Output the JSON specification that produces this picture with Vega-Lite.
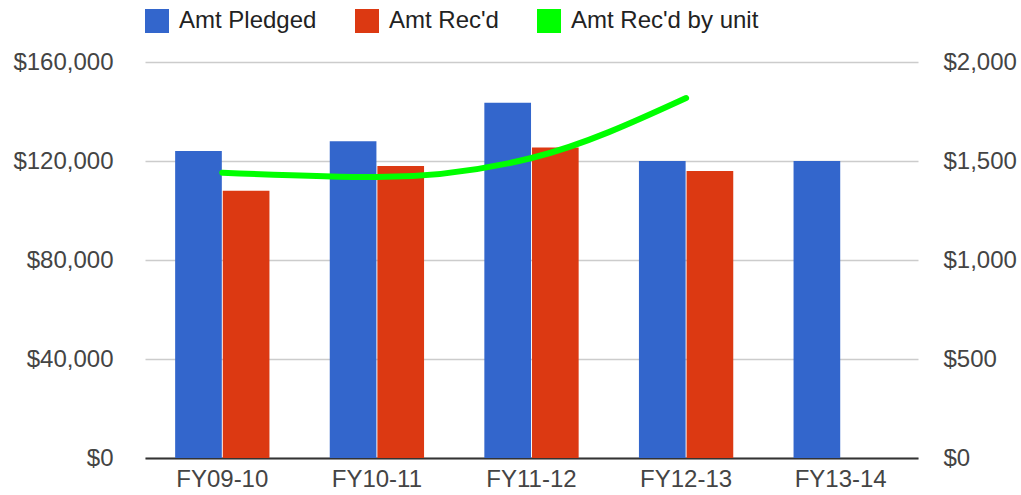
{
  "$schema": "https://vega.github.io/schema/vega-lite/v6.json",
  "width": 773,
  "height": 396,
  "autosize": {"type": "none"},
  "padding": {"left": 145, "top": 62, "right": 103, "bottom": 37},
  "background": "white",
  "config": {
    "view": {"stroke": null},
    "font": "Liberation Sans",
    "axis": {"labelFont": "Liberation Sans", "labelFontSize": 24, "labelColor": "#444"}
  },
  "datasets": {
    "bars": [
      {"year": "FY09-10", "series": "Amt Pledged", "value": 124000},
      {"year": "FY09-10", "series": "Amt Rec'd", "value": 108000},
      {"year": "FY10-11", "series": "Amt Pledged", "value": 128000},
      {"year": "FY10-11", "series": "Amt Rec'd", "value": 118000},
      {"year": "FY11-12", "series": "Amt Pledged", "value": 143500},
      {"year": "FY11-12", "series": "Amt Rec'd", "value": 125500},
      {"year": "FY12-13", "series": "Amt Pledged", "value": 120000},
      {"year": "FY12-13", "series": "Amt Rec'd", "value": 116000},
      {"year": "FY13-14", "series": "Amt Pledged", "value": 120000}
    ],
    "unit": [
      {"year": "FY09-10", "unit": 1441},
      {"year": "FY10-11", "unit": 1419},
      {"year": "FY11-12", "unit": 1515},
      {"year": "FY12-13", "unit": 1818}
    ]
  },
  "encoding": {
    "x": {
      "field": "year", "type": "nominal",
      "sort": ["FY09-10", "FY10-11", "FY11-12", "FY12-13", "FY13-14"],
      "scale": {"domain": ["FY09-10", "FY10-11", "FY11-12", "FY12-13", "FY13-14"], "paddingInner": 0.39, "paddingOuter": 0.195},
      "axis": {"title": null, "labelAngle": 0, "ticks": false, "domainColor": "#333", "domainWidth": 2, "labelPadding": 9, "grid": false}
    }
  },
  "layer": [
    {
      "data": {"name": "bars"},
      "mark": {"type": "bar"},
      "encoding": {
        "xOffset": {"field": "series", "type": "nominal", "scale": {"domain": ["Amt Pledged", "Amt Rec'd"], "paddingInner": 0.02}},
        "y": {
          "field": "value", "type": "quantitative",
          "scale": {"domain": [0, 160000]},
          "axis": {"title": null, "orient": "left", "values": [0, 40000, 80000, 120000, 160000], "format": "$,.0f", "domain": false, "ticks": false, "labelPadding": 32, "gridColor": "#ccc", "gridWidth": 1.5}
        },
        "color": {
          "field": "series", "type": "nominal",
          "scale": {"domain": ["Amt Pledged", "Amt Rec'd", "Amt Rec'd by unit"], "range": ["#3366cc", "#dc3912", "#00ff00"]},
          "legend": {
            "title": null, "orient": "none", "legendX": 0, "legendY": -53,
            "direction": "horizontal", "columns": 3,
            "symbolType": "square", "symbolSize": 576, "symbolStrokeWidth": 0,
            "labelFontSize": 24, "labelColor": "#222", "labelFont": "Liberation Sans",
            "labelOffset": 10, "columnPadding": 38, "labelLimit": 400
          }
        }
      }
    },
    {
      "data": {"name": "unit"},
      "mark": {"type": "line", "interpolate": "monotone", "strokeWidth": 6, "color": "#00ff00", "strokeCap": "round"},
      "encoding": {
        "y": {
          "field": "unit", "type": "quantitative",
          "scale": {"domain": [0, 2000]},
          "axis": {"title": null, "orient": "right", "values": [0, 500, 1000, 1500, 2000], "format": "$,.0f", "domain": false, "ticks": false, "grid": false, "labelPadding": 25}
        }
      }
    }
  ],
  "resolve": {"scale": {"y": "independent"}}
}
